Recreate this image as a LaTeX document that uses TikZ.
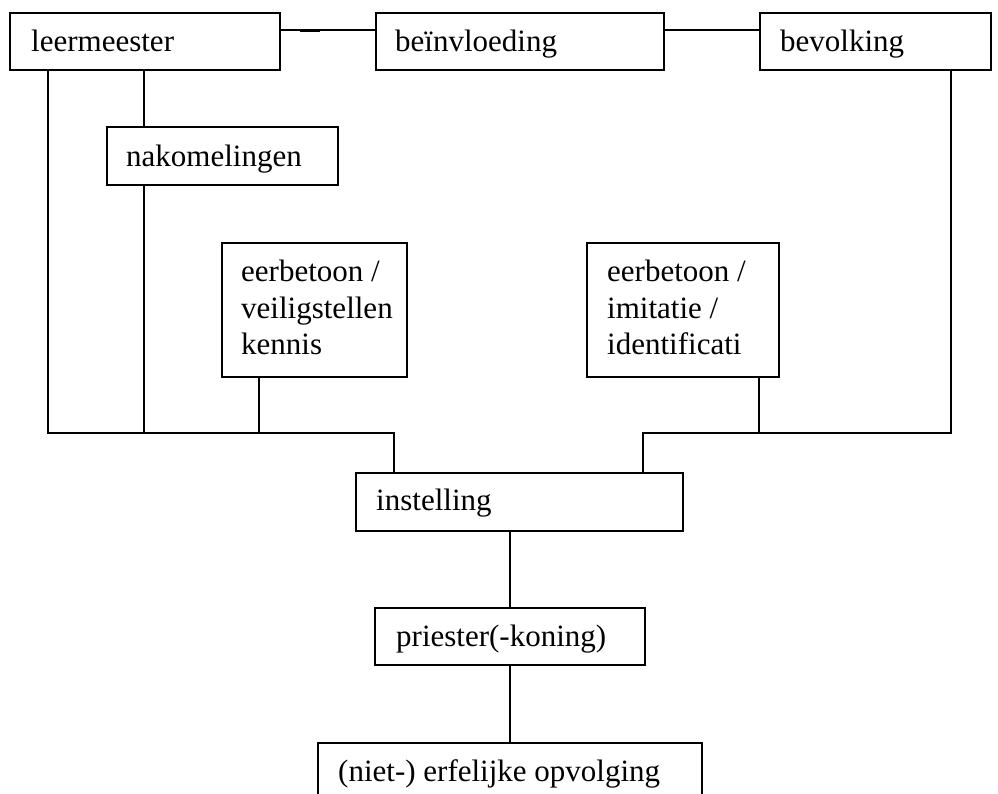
\documentclass[tikz,border=0pt]{standalone}
\usepackage{fontspec}
\setmainfont{Liberation Serif}
\usetikzlibrary{calc}
\tikzset{
  box/.style={draw, line width=1.9pt, rectangle, inner sep=0pt, anchor=north west},
  lbl/.style={inner sep=0pt, anchor=base west, font=\fontsize{31}{36.5}\selectfont},
  conn/.style={line width=1.9pt, line cap=rect}
}
\newcommand{\mlines}[1]{\begin{tabular}[t]{@{}l@{}}#1\end{tabular}}
\begin{document}
\begin{tikzpicture}[x=1pt,y=1pt]
\clip (0,0) rectangle (998,-794);
\fill[white] (0,0) rectangle (998,-794);
% boxes
\node[box, minimum width=270, minimum height=57] (lm)  at (9,-12) {};
\node[box, minimum width=288, minimum height=57] (bi)  at (375,-12) {};
\node[box, minimum width=231, minimum height=57] (bev) at (759,-12) {};
\node[box, minimum width=231, minimum height=58] (nak) at (106,-126) {};
\node[box, minimum width=185, minimum height=134] (e1) at (221,-242) {};
\node[box, minimum width=192, minimum height=134] (e2) at (586,-242) {};
\node[box, minimum width=327, minimum height=58] (inst) at (355,-472) {};
\node[box, minimum width=270, minimum height=57] (pr) at (374,-607) {};
\node[box, minimum width=384, minimum height=80] (erf) at (317,-742) {};
% texts
\node[lbl] (tlm)  at (31,-52) {leermeester};
\node[lbl] (tbi)  at (395,-52) {beïnvloeding};
\node[lbl] (tbev) at (780,-52) {bevolking};
\node[lbl] (tnak) at (126,-167) {nakomelingen};
\node[lbl] (te1)  at (241,-282) {\mlines{eerbetoon /\\veiligstellen\\kennis}};
\node[lbl] (te2)  at (607,-282) {\mlines{eerbetoon /\\imitatie /\\identificati}};
\node[lbl] (tinst) at (376,-510) {instelling};
\node[lbl] (tpr)  at (396,-646) {priester(-koning)};
\node[lbl] (terf) at (338,-781) {(niet-) erfelijke opvolging};
% junction points
\coordinate (jl) at (394,-433);
\coordinate (jr) at (643,-433);
% connectors
\draw[conn] ([yshift=-18]lm.north east) -- ([yshift=-18]bi.north west);
\draw[line width=2.6pt] ([xshift=19,yshift=-18.4]lm.north east) -- ++(20,0);
\draw[conn] ([yshift=-18]bi.north east) -- ([yshift=-18]bev.north west);
\draw[conn] ([xshift=39]lm.south west) |- (jl) -- (jl |- inst.north);
\draw[conn] ([xshift=135]lm.south west) -- ([xshift=38]nak.north west);
\draw[conn] ([xshift=38]nak.south west) -- ([xshift=38]nak.south west |- jl);
\draw[conn] ([xshift=38]e1.south west) -- ([xshift=38]e1.south west |- jl);
\draw[conn] ([xshift=192]bev.south west) |- (jr) -- (jr |- inst.north);
\draw[conn] ([xshift=173]e2.south west) -- ([xshift=173]e2.south west |- jr);
\draw[conn] (pr.north |- inst.south) -- (pr.north);
\draw[conn] (pr.south) -- (pr.south |- erf.north);
\end{tikzpicture}
\end{document}
